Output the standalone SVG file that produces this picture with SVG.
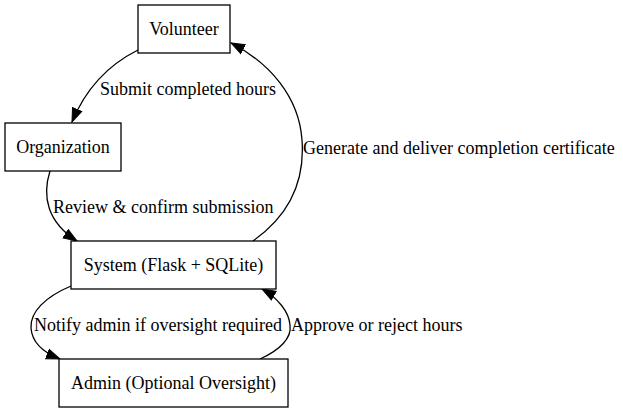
<svg xmlns="http://www.w3.org/2000/svg" width="623" height="413" viewBox="0 0 623 413">
<style>
.node rect{fill:#fff;stroke:#000;stroke-width:1.3}
text{font-family:"Liberation Serif","Times New Roman",serif;font-size:18px;fill:#000}
.node text{text-anchor:middle}
.edge path{fill:none;stroke:#000;stroke-width:1.3;marker-end:url(#arr)}
</style>
<defs>
<marker id="arr" markerUnits="userSpaceOnUse" markerWidth="16" markerHeight="12" refX="14" refY="5.5" orient="auto" viewBox="0 0 16 11">
<path d="M0.5,0.5 L14,5.5 L0.5,10.5 z" fill="#000" stroke="#000" stroke-width="1"/>
</marker>
</defs>
<rect width="623" height="413" fill="#fff"/>
<g id="connectors" class="edge">
<path d="M138,50 C110,64 86,88 72,122"/>
<path d="M50,171 C42,196 47,222 77,241"/>
<path d="M253,241 C290,215 305,180 302,140 C299,97 270,63 231,43"/>
<path d="M71,286 C45,297 30,312 31,328 C32,342 42,352 60,359"/>
<path d="M260,359 C280,350 292,338 290,325 C289,312 278,298 262,289"/>
<text x="100" y="95">Submit completed hours</text>
<text x="53" y="213">Review &amp; confirm submission</text>
<text x="303" y="154">Generate and deliver completion certificate</text>
<text x="34" y="331">Notify admin if oversight required</text>
<text x="291" y="331">Approve or reject hours</text>
</g>
<g id="volunteer" class="node"><rect x="138" y="5" width="92" height="48"/><text x="184" y="35">Volunteer</text></g>
<g id="organization" class="node"><rect x="5" y="123" width="116" height="48"/><text x="63" y="153">Organization</text></g>
<g id="system" class="node"><rect x="71" y="241" width="205" height="48"/><text x="173.5" y="271">System (Flask + SQLite)</text></g>
<g id="admin" class="node"><rect x="59" y="359" width="229" height="48"/><text x="173.5" y="389">Admin (Optional Oversight)</text></g>
</svg>
